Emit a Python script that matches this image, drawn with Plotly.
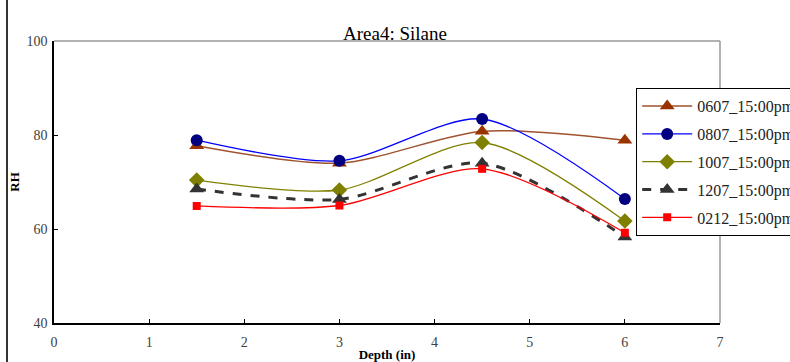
import plotly.graph_objects as go

depth = [1.5, 3, 4.5, 6]
s0607 = [77.7, 74.0, 80.8, 78.9]
s0807 = [78.9, 74.5, 83.4, 66.4]
s1007 = [70.4, 68.3, 78.4, 61.7]
s1207 = [68.5, 66.3, 74.0, 58.3]
s0212 = [64.9, 65.0, 72.8, 59.2]
names = ["0607_15:00pm", "0807_15:00pm", "1007_15:00pm", "1207_15:00pm", "0212_15:00pm"]

FONT = "Liberation Serif"

fig = go.Figure()
specs = [
    (s0607, names[0], "#A0522D", "#993300", "triangle-up", 13, "solid", 1.5),
    (s0807, names[1], "#0000FF", "#000080", "circle", 12, "solid", 1.3),
    (s1007, names[2], "#808000", "#808000", "diamond", 12, "solid", 1.3),
    (s1207, names[3], "#333333", "#333333", "triangle-up", 13, "dash", 3),
    (s0212, names[4], "#FF0000", "#FF0000", "square", 8, "solid", 1.3),
]
for i, (ys, nm, lc, mc, sym, ms, dash, lw) in enumerate(specs):
    fig.add_trace(go.Scatter(
        x=depth, y=ys, name=nm, mode="lines+markers", legendgroup=f"g{i}",
        line=dict(color=lc, width=lw, dash=dash, shape="spline", smoothing=0.8),
        marker=dict(color=mc, symbol=sym, size=ms),
    ))

fig.update_layout(
    width=790, height=362,
    margin=dict(l=54, r=70, t=41, b=39, autoexpand=False),
    paper_bgcolor="white", plot_bgcolor="white",
    font=dict(family=FONT, size=14, color="#404040"),
    title=dict(text="Area4: Silane", x=0.5, xanchor="center", y=1 - 33 / 362, yanchor="middle",
               font=dict(family=FONT, size=19, color="black")),
    xaxis=dict(range=[0, 7], tickvals=[0, 1, 2, 3, 4, 5, 6, 7], showgrid=False, zeroline=False,
               showline=True, linecolor="black", linewidth=1.5, ticks="inside", ticklen=4,
               tickcolor="black", mirror=False, ticklabelstandoff=5,
               title=dict(text="<b>Depth (in)</b>", standoff=2, font=dict(family=FONT, size=13, color="black"))),
    yaxis=dict(range=[40, 100], tickvals=[40, 60, 80, 100], showgrid=False, zeroline=False,
               showline=True, linecolor="black", linewidth=1.5, ticks="inside", ticklen=4,
               tickcolor="black", ticklabelstandoff=2,
               title=dict(text="<b>RH</b>", standoff=4, font=dict(family=FONT, size=13, color="black"))),
    legend=dict(x=(636 - 54) / 666, xanchor="left", y=(323 - 88) / 282, yanchor="top",
                bgcolor="white", bordercolor="black", borderwidth=1.2,
                font=dict(family=FONT, size=16, color="#222222"),
                itemwidth=50, tracegroupgap=4),
    showlegend=True,
)
# gray top and right plot-area border
fig.add_shape(type="line", xref="paper", yref="paper", x0=0, x1=1, y0=1, y1=1,
              line=dict(color="#999999", width=1.5), layer="below")
fig.add_shape(type="line", xref="paper", yref="paper", x0=1, x1=1, y0=0, y1=1,
              line=dict(color="#999999", width=1.5), layer="below")
# outer chart border at left
fig.add_shape(type="line", xref="paper", yref="paper", x0=(7 - 54) / 666, x1=(7 - 54) / 666,
              y0=-0.2, y1=1.2, line=dict(color="#333333", width=2))

fig.write_html("out.html", config={"displayModeBar": False},
               post_script="document.body.style.margin='0';")
